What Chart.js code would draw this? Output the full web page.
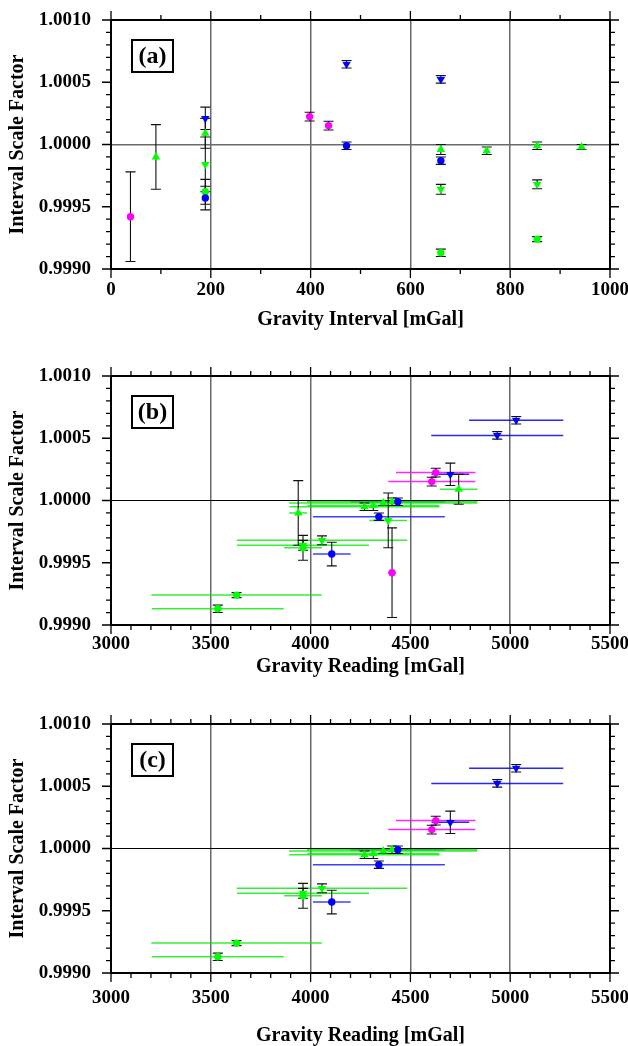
<!DOCTYPE html>
<html>
<head>
<meta charset="utf-8">
<script src="https://cdn.jsdelivr.net/npm/chart.js@4.4.1/dist/chart.umd.min.js"></script>
<style>
    html, body { margin: 0; padding: 0; background: #fff; overflow: hidden; }
    canvas { position: absolute; left: 0; }
</style>
</head>
<body>
<canvas id="chart-a" width="628" height="345" style="top:0px"></canvas>
<canvas id="chart-b" width="628" height="352" style="top:345px"></canvas>
<canvas id="chart-c" width="628" height="349" style="top:697px"></canvas>
<script>
// Series: 0 magenta circle, 1 blue circle, 2 blue down-triangle,
// 3 green circle, 4 green up-triangle, 5 green down-triangle
const pointSeries  = [0, 4, 2, 4, 5, 3, 1, 0, 0, 2, 1, 2, 4, 1, 5, 3, 4, 4, 5, 3, 4];
const intervals    = [39, 90, 189, 189, 189, 189, 189, 398, 436, 472, 472, 661, 661, 661, 661, 661, 753, 854, 854, 854, 943];
const scaleFactors = [0.99942, 0.99990, 1.00021, 1.00009, 0.99984, 0.99962, 0.99957, 1.000224, 1.000152, 1.000645,
                      0.99999, 1.000523, 0.99996, 0.99987, 0.99964, 0.99913, 0.99995, 0.99999, 0.99968, 0.99924, 0.99998];
const factorErrors = [0.00036, 0.00026, 0.00009, 0.00012, 0.00022, 0.00010, 0.000095, 0.000035, 0.000035, 0.00003,
                      0.00003, 0.00003, 0.00004, 0.00003, 0.00004, 0.00003, 0.00003, 0.00003, 0.000036, 0.00002, 0.00002];
const readings     = [4408, 3938, 4700, 4742, 4389, 3962, 4106, 4627, 4607, 5030,
                      4437, 4935, 4314, 4342, 3962, 3535, 4270, 4408, 4057, 3629, 4364];
const inPanelC     = [0, 0, 1, 0, 0, 1, 1, 1, 1, 1, 1, 1, 1, 1, 1, 1, 1, 1, 1, 1, 1];

const intervalTicks = [0, 200, 400, 600, 800, 1000];
const readingTicks  = [3000, 3500, 4000, 4500, 5000, 5500];
const factorTicks   = [0.9990, 0.9995, 1.0000, 1.0005, 1.0010];

const seriesColors   = ['#ff00ff', '#0000ff', '#0000ff', '#00ff00', '#00ff00', '#00ff00'];
const seriesBarColor = ['rgba(255,0,255,0.85)', 'rgba(0,0,255,0.75)', 'rgba(0,0,255,0.85)',
                        'rgba(0,235,0,0.8)', 'rgba(0,235,0,0.8)', 'rgba(0,235,0,0.8)'];
const seriesMarkers  = ['circle', 'circle', 'triangle', 'circle', 'triangle', 'triangle'];
const seriesRotation = [0, 0, 180, 0, 0, 180];

const FONT = 'Liberation Serif';

function makeDatasets(xValues, withBars, keep) {
    return seriesColors.map((color, s) => {
        const data = [];
        pointSeries.forEach((ps, i) => {
            if (ps !== s || !keep(i)) return;
            data.push({
                x: xValues[i],
                y: scaleFactors[i],
                err: factorErrors[i],
                half: withBars ? intervals[i] / 2 : 0
            });
        });
        return {
            data,
            barColor: seriesBarColor[s],
            pointStyle: seriesMarkers[s],
            rotation: seriesRotation[s],
            pointRadius: seriesMarkers[s] === 'circle' ? 3.7 : 4.9,
            backgroundColor: color,
            borderColor: color,
            borderWidth: 0
        };
    });
}

// error bars, frame with outward ticks, panel label
const panelPlugin = {
    id: 'panel',
    beforeDatasetsDraw(chart) {
        const ctx = chart.ctx;
        const xs = chart.scales.x, ys = chart.scales.y;
        ctx.save();
        chart.data.datasets.forEach((ds, di) => {
            const meta = chart.getDatasetMeta(di);
            meta.data.forEach((pt, j) => {
                const raw = ds.data[j];
                if (raw.half) {
                    ctx.strokeStyle = ds.barColor;
                    ctx.lineWidth = 1.5;
                    ctx.beginPath();
                    ctx.moveTo(xs.getPixelForValue(raw.x - raw.half), pt.y);
                    ctx.lineTo(xs.getPixelForValue(raw.x + raw.half), pt.y);
                    ctx.stroke();
                }
            });
        });
        chart.data.datasets.forEach((ds, di) => {
            const meta = chart.getDatasetMeta(di);
            meta.data.forEach((pt, j) => {
                const raw = ds.data[j];
                const y0 = ys.getPixelForValue(raw.y + raw.err);
                const y1 = ys.getPixelForValue(raw.y - raw.err);
                ctx.strokeStyle = '#111';
                ctx.lineWidth = 1.1;
                ctx.beginPath();
                ctx.moveTo(pt.x, y0); ctx.lineTo(pt.x, y1);
                ctx.moveTo(pt.x - 5, y0); ctx.lineTo(pt.x + 5, y0);
                ctx.moveTo(pt.x - 5, y1); ctx.lineTo(pt.x + 5, y1);
                ctx.stroke();
            });
        });
        ctx.restore();
    },
    afterDraw(chart, args, opts) {
        const ctx = chart.ctx;
        const a = chart.chartArea;
        const xs = chart.scales.x, ys = chart.scales.y;
        ctx.save();
        ctx.strokeStyle = '#000';
        ctx.lineWidth = 1.3;
        ctx.beginPath();
        // x ticks, bottom and top
        const nx = Math.round((xs.max - xs.min) / opts.xMinor);
        for (let k = 0; k <= nx; k++) {
            const v = xs.min + k * opts.xMinor;
            const major = opts.xTicks.some(t => Math.abs(t - v) < 1e-6);
            const len = major ? 9 : 5;
            const px = xs.getPixelForValue(v);
            ctx.moveTo(px, a.bottom); ctx.lineTo(px, a.bottom + len);
            ctx.moveTo(px, a.top); ctx.lineTo(px, a.top - len);
        }
        // y ticks, left and right
        const ny = Math.round((ys.max - ys.min) / opts.yMinor);
        for (let k = 0; k <= ny; k++) {
            const v = ys.min + k * opts.yMinor;
            const major = opts.yTicks.some(t => Math.abs(t - v) < opts.yMinor / 100);
            const len = major ? 9 : 5;
            const py = ys.getPixelForValue(v);
            ctx.moveTo(a.left, py); ctx.lineTo(a.left - len, py);
            ctx.moveTo(a.right, py); ctx.lineTo(a.right + len, py);
        }
        ctx.stroke();
        ctx.lineWidth = 2;
        ctx.strokeRect(a.left, a.top, a.right - a.left, a.bottom - a.top);
        // panel label box
        const bx = a.left + 21, by = a.top + 20;
        ctx.fillStyle = '#fff';
        ctx.fillRect(bx, by, 41, 32);
        ctx.strokeRect(bx, by, 41, 32);
        ctx.fillStyle = '#000';
        ctx.font = 'bold 24px "' + FONT + '"';
        ctx.textAlign = 'center';
        ctx.textBaseline = 'middle';
        ctx.fillText(opts.label, bx + 20.5, by + 17);
        ctx.restore();
    }
};

function makeChart(id, cfg) {
    const tickFont = { family: FONT, size: 19, weight: 'bold' };
    const titleFont = { family: FONT, size: 20, weight: 'bold', lineHeight: 1 };
    const xMin = cfg.xTicks[0], xMax = cfg.xTicks[cfg.xTicks.length - 1];
    return new Chart(document.getElementById(id), {
        type: 'scatter',
        data: { datasets: cfg.datasets },
        plugins: [panelPlugin],
        options: {
            responsive: false,
            animation: false,
            events: [],
            layout: { padding: { left: 0, right: 18, top: cfg.top, bottom: 0 } },
            plugins: {
                legend: { display: false },
                tooltip: { enabled: false },
                panel: { label: cfg.label, xTicks: cfg.xTicks, yTicks: factorTicks, xMinor: 100, yMinor: 0.0001 }
            },
            scales: {
                x: {
                    type: 'linear',
                    min: xMin,
                    max: xMax,
                    afterBuildTicks: s => { s.ticks = cfg.xTicks.map(v => ({ value: v })); },
                    afterFit: s => { s.height = cfg.xHeight; s.paddingLeft = 0; s.paddingRight = 0; },
                    ticks: {
                        font: tickFont, color: '#000', padding: cfg.xLabelPad,
                        maxRotation: 0, autoSkip: false,
                        callback: v => String(v)
                    },
                    grid: {
                        drawTicks: false,
                        lineWidth: 1.5,
                        color: c => (c.tick && c.tick.value > xMin && c.tick.value < xMax) ? '#6a6a6a' : 'rgba(0,0,0,0)'
                    },
                    border: { display: false },
                    title: {
                        display: true, text: cfg.xTitle, color: '#000', font: titleFont,
                        padding: { top: 0, bottom: cfg.titlePad }
                    }
                },
                y: {
                    type: 'linear',
                    min: factorTicks[0],
                    max: factorTicks[factorTicks.length - 1],
                    afterBuildTicks: s => { s.ticks = factorTicks.map(v => ({ value: v })); },
                    afterFit: s => { s.width = 111; s.paddingTop = 0; s.paddingBottom = 0; },
                    ticks: {
                        font: tickFont, color: '#000', padding: 20, autoSkip: false,
                        callback: v => v.toFixed(4)
                    },
                    grid: {
                        drawTicks: false,
                        lineWidth: cfg.hLineWidth,
                        color: c => (c.tick && Math.abs(c.tick.value - 1) < 1e-9) ? cfg.hLineColor : 'rgba(0,0,0,0)'
                    },
                    border: { display: false },
                    title: {
                        display: true, text: 'Interval Scale Factor', color: '#000', font: titleFont,
                        padding: { top: 8, bottom: 0 }
                    }
                }
            }
        }
    });
}

makeChart('chart-a', {
    label: '(a)',
    datasets: makeDatasets(intervals, false, () => true),
    xTicks: intervalTicks,
    xTitle: 'Gravity Interval [mGal]',
    top: 20, xHeight: 76, xLabelPad: 10, titlePad: 15,
    hLineColor: '#6a6a6a', hLineWidth: 1.5
});

makeChart('chart-b', {
    label: '(b)',
    datasets: makeDatasets(readings, true, () => true),
    xTicks: readingTicks,
    xTitle: 'Gravity Reading [mGal]',
    top: 31, xHeight: 72, xLabelPad: 8, titlePad: 20,
    hLineColor: '#000', hLineWidth: 1
});

makeChart('chart-c', {
    label: '(c)',
    datasets: makeDatasets(readings, true, i => inPanelC[i] === 1),
    xTicks: readingTicks,
    xTitle: 'Gravity Reading [mGal]',
    top: 27, xHeight: 73, xLabelPad: 14, titlePad: 0,
    hLineColor: '#000', hLineWidth: 1
});
</script>
</body>
</html>
